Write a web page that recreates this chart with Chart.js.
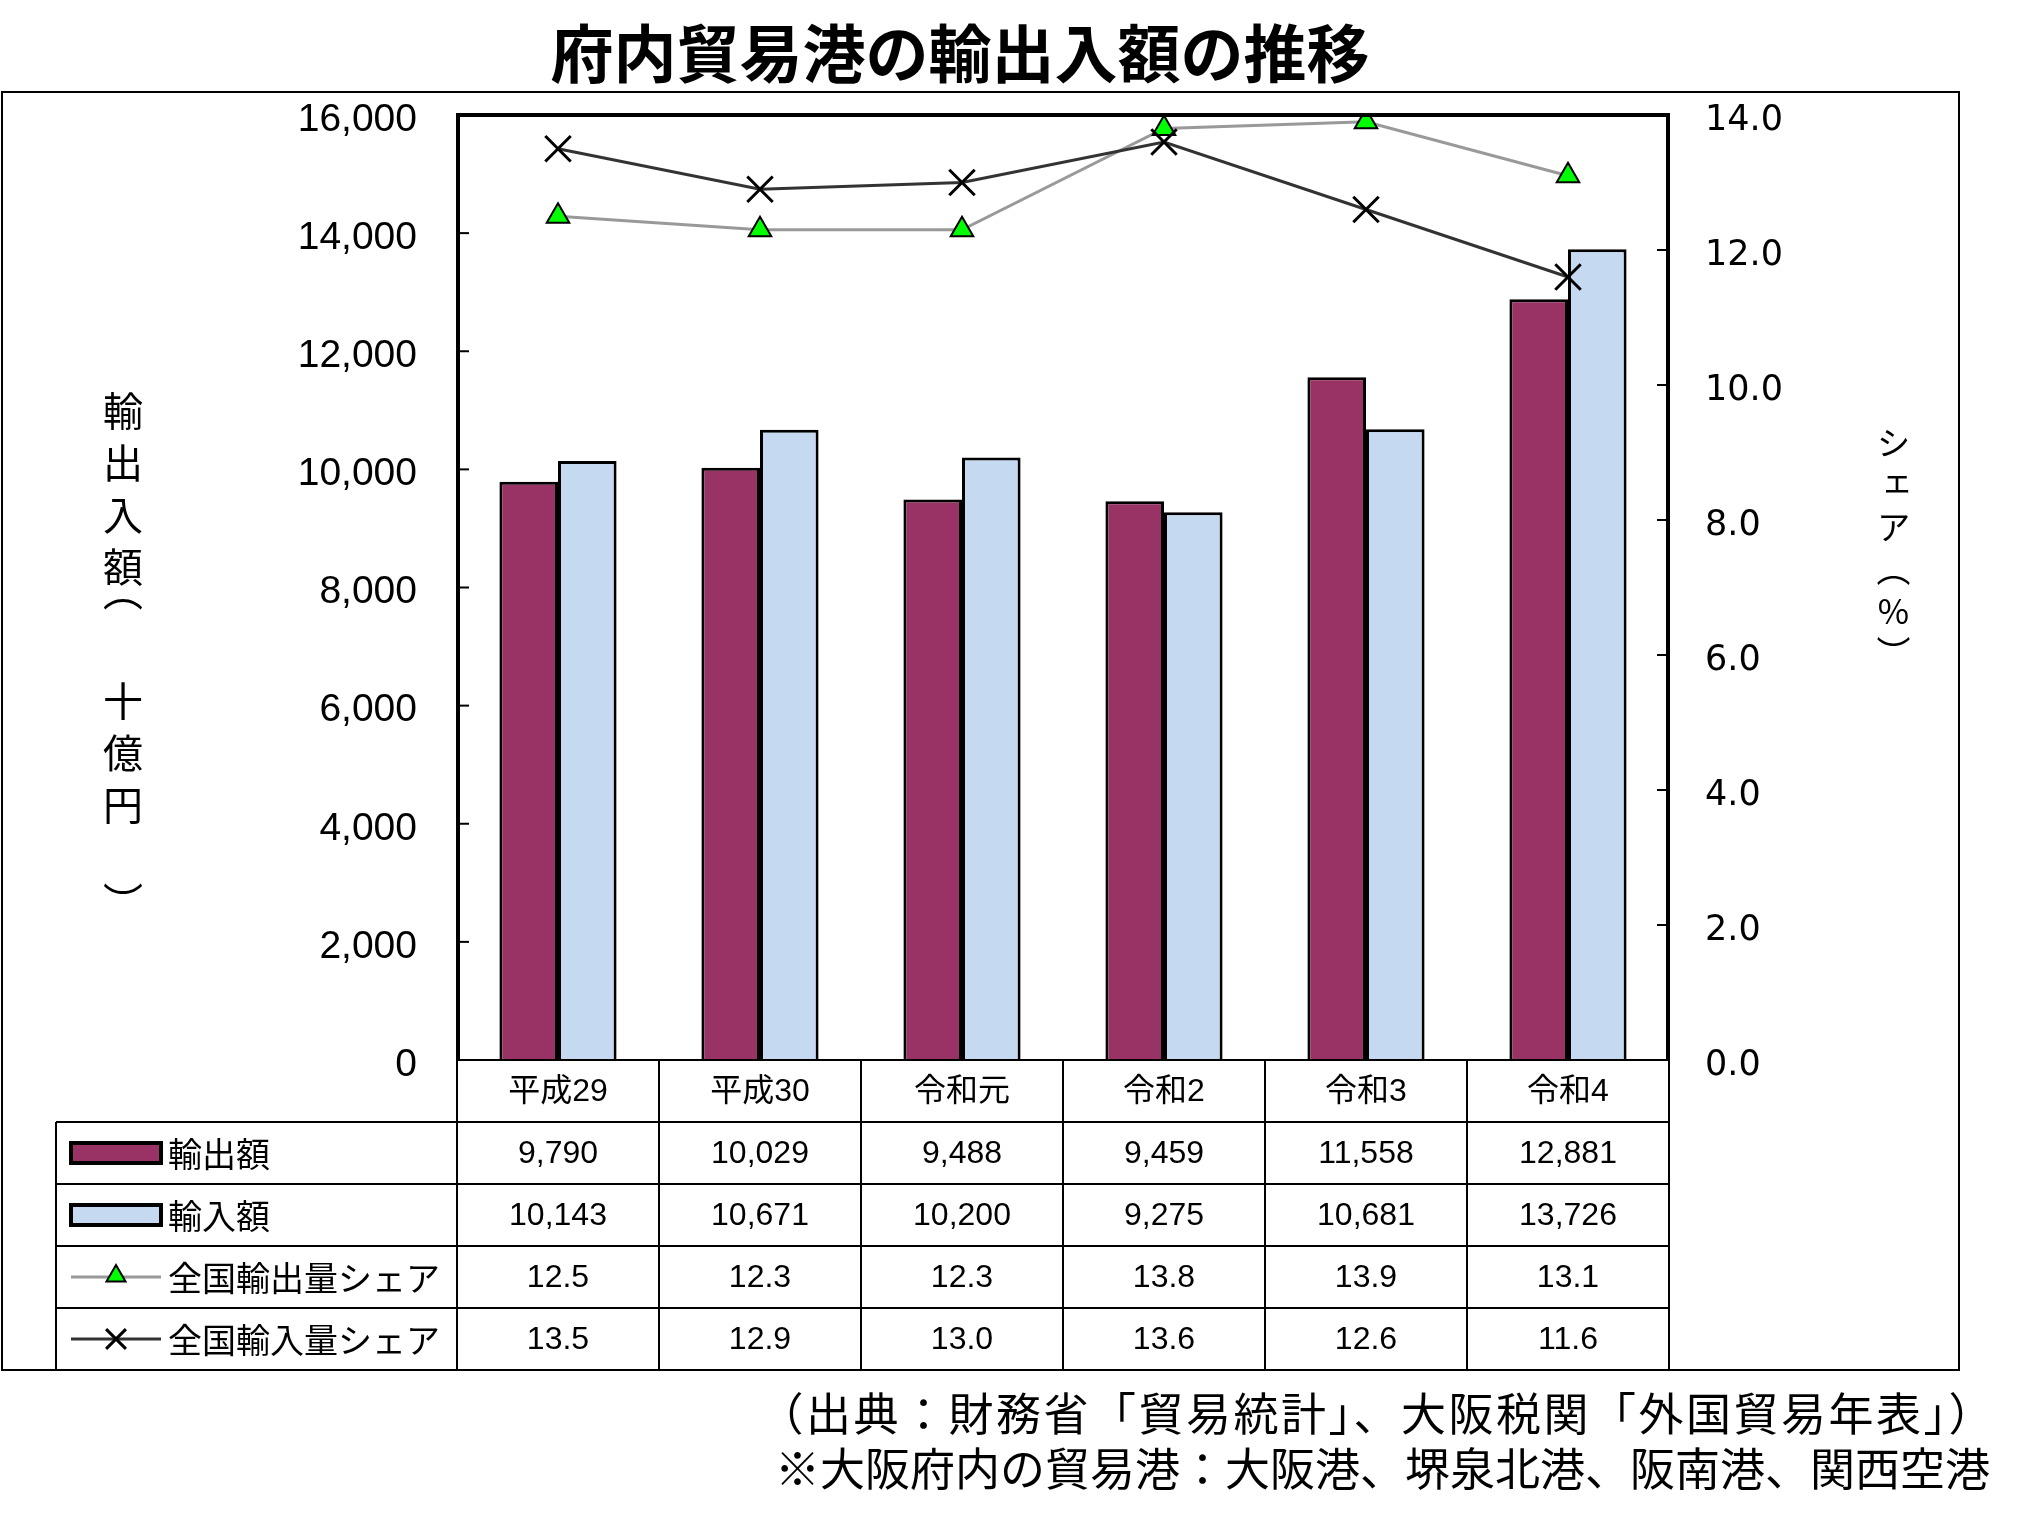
<!DOCTYPE html>
<html lang="ja">
<head>
<meta charset="utf-8">
<title>府内貿易港の輸出入額の推移</title>
<script src="https://cdn.jsdelivr.net/npm/chart.js@4.4.1/dist/chart.umd.min.js"></script>
<style>
  body { margin: 0; background: #fff; }
  #wrap { position: relative; width: 2026px; height: 1527px; }
  #chart { position: absolute; left: 0; top: 0; }
  .title {
    position: absolute; left: 0; top: 16px; width: 1920px; text-align: center;
    font: 700 63px/68px 'Noto Sans CJK JP', sans-serif; color: #000;
  }
  .ytitle {
    position: absolute; writing-mode: vertical-rl; text-orientation: upright;
    font-family: 'Noto Sans CJK JP', sans-serif; color: #000; white-space: nowrap;
  }
  .ytitle.left { left: 103px; top: 391px; font-size: 40px; line-height: 40px; letter-spacing: 12px; }
  .ytitle.left .po { margin-inline-start: -28px; margin-inline-end: 58px; }
  .ytitle.left .pc { margin-inline-start: 45px; }
  .ytitle.right { left: 1876px; top: 426px; font-size: 34px; line-height: 34px; letter-spacing: 8px; }
  .note {
    position: absolute; white-space: nowrap; color: #000;
    font: 400 45px/45px 'Noto Sans CJK JP', sans-serif;
  }
  .n1 { right: 30px; top: 1389px; letter-spacing: 2.5px; }
  .n2 { right: 36px; top: 1444px; }
</style>
</head>
<body>
<div id="wrap">
  <canvas id="chart" width="2026" height="1527"></canvas>
  <div class="title">府内貿易港の輸出入額の推移</div>
  <div class="ytitle left">輸出入額<span class="po">（</span>十億円<span class="pc">）</span></div>
  <div class="ytitle right">シェア（%）</div>
  <div class="note n1">（出典：財務省「貿易統計」、大阪税関「外国貿易年表」）</div>
  <div class="note n2">※大阪府内の貿易港：大阪港、堺泉北港、阪南港、関西空港</div>
</div>
<script>
// data (exports/imports in 十億円, shares in %)
var categories = ['平成29', '平成30', '令和元', '令和2', '令和3', '令和4'];
var exportValues = [9790, 10029, 9488, 9459, 11558, 12881];
var importValues = [10143, 10671, 10200, 9275, 10681, 13726];
var exportShare = [12.5, 12.3, 12.3, 13.8, 13.9, 13.1];
var importShare = [13.5, 12.9, 13.0, 13.6, 12.6, 11.6];
var seriesNames = ['輸出額', '輸入額', '全国輸出量シェア', '全国輸入量シェア'];

var EXPORT_COLOR = '#993366';
var IMPORT_COLOR = '#C5D9F1';
var TEXT_FONT = "'Liberation Sans', 'Noto Sans CJK JP', sans-serif";

function fmtInt(v) { return v.toLocaleString('en-US'); }
function fmt1(v) { return v.toFixed(1); }

function marker(ctx, style, radius, bw, x, y) {
    if (Chart.helpers && Chart.helpers.drawPoint) {
        Chart.helpers.drawPoint(ctx, { pointStyle: style, radius: radius, borderWidth: bw, rotation: 0 }, x, y);
    }
}

// inside ticks, plot frame, data table with legend keys
var tablePlugin = {
    id: 'dataTable',
    afterDraw: function(chart) {
        var ctx = chart.ctx;
        var area = chart.chartArea;
        var xs = chart.scales.x;
        var n = categories.length;
        var colW = area.width / n;
        var rowH = 62;
        var legendLeft = 56;
        var top = area.bottom;
        var bottom = top + rowH * 5;

        ctx.save();
        ctx.strokeStyle = '#000';

        // outer frame
        ctx.lineWidth = 2;
        ctx.strokeRect(2, 92, 1957, bottom - 92);

        // ticks inside the plot
        ctx.lineWidth = 2;
        chart.scales.y.ticks.forEach(function(t) {
            var py = chart.scales.y.getPixelForValue(t.value);
            ctx.beginPath(); ctx.moveTo(area.left, py); ctx.lineTo(area.left + 12, py); ctx.stroke();
        });
        chart.scales.y1.ticks.forEach(function(t) {
            var py = chart.scales.y1.getPixelForValue(t.value);
            ctx.beginPath(); ctx.moveTo(area.right - 12, py); ctx.lineTo(area.right, py); ctx.stroke();
        });

        // plot border
        ctx.lineWidth = 4;
        ctx.beginPath();
        ctx.moveTo(area.left + 1, area.bottom);
        ctx.lineTo(area.left + 1, area.top);
        ctx.lineTo(area.right - 1, area.top);
        ctx.lineTo(area.right - 1, area.bottom);
        ctx.stroke();

        // table grid
        ctx.lineWidth = 2;
        for (var i = 0; i <= 5; i++) {
            var y = top + rowH * i;
            ctx.beginPath();
            ctx.moveTo(i === 0 ? area.left : legendLeft, y);
            ctx.lineTo(area.right, y);
            ctx.stroke();
        }
        for (var j = 0; j <= n; j++) {
            var x = area.left + colW * j;
            ctx.beginPath(); ctx.moveTo(x, top); ctx.lineTo(x, bottom); ctx.stroke();
        }
        ctx.beginPath(); ctx.moveTo(legendLeft, top + rowH); ctx.lineTo(legendLeft, bottom); ctx.stroke();

        // cell texts
        var rows = [categories, exportValues.map(fmtInt), importValues.map(fmtInt),
                    exportShare.map(fmt1), importShare.map(fmt1)];
        ctx.fillStyle = '#000';
        ctx.font = '32px ' + TEXT_FONT;
        ctx.textAlign = 'center';
        ctx.textBaseline = 'middle';
        rows.forEach(function(row, r) {
            var cy = top + rowH * r + rowH / 2 + 1;
            row.forEach(function(txt, c) {
                ctx.fillText(txt, xs.getPixelForValue(c), cy);
            });
        });

        // legend keys
        var kx0 = 71, kx1 = 161;
        for (var k = 0; k < 4; k++) {
            var cy2 = top + rowH * (k + 1) + rowH / 2;
            if (k < 2) {
                ctx.fillStyle = k === 0 ? EXPORT_COLOR : IMPORT_COLOR;
                ctx.fillRect(kx0, cy2 - 10, kx1 - kx0, 20);
                ctx.lineWidth = 4;
                ctx.strokeStyle = '#000';
                ctx.strokeRect(kx0, cy2 - 10, kx1 - kx0, 20);
            } else {
                ctx.lineWidth = 3;
                ctx.strokeStyle = k === 2 ? '#999999' : '#333333';
                ctx.beginPath(); ctx.moveTo(kx0, cy2); ctx.lineTo(kx1, cy2); ctx.stroke();
                ctx.strokeStyle = '#000';
                if (k === 2) {
                    ctx.fillStyle = '#00FF00';
                    ctx.lineWidth = 2;
                    marker(ctx, 'triangle', 11, 2, (kx0 + kx1) / 2, cy2 - 1);
                } else {
                    ctx.fillStyle = '#fff';
                    ctx.lineWidth = 3;
                    marker(ctx, 'crossRot', 14, 3, (kx0 + kx1) / 2, cy2);
                }
            }
            ctx.fillStyle = '#000';
            ctx.textAlign = 'left';
            ctx.font = "34px 'Noto Sans CJK JP', sans-serif";
            ctx.fillText(seriesNames[k], 168, cy2 + 1);
        }
        ctx.restore();
    }
};

var ctx = document.getElementById('chart').getContext('2d');
var myChart = new Chart(ctx, {
    type: 'bar',
    data: {
        labels: categories,
        datasets: [{
            label: seriesNames[0],
            data: exportValues,
            backgroundColor: EXPORT_COLOR,
            borderColor: '#000',
            borderWidth: 3,
            yAxisID: 'y',
            order: 2,
            categoryPercentage: 0.58,
            barPercentage: 1.0
        }, {
            label: seriesNames[1],
            data: importValues,
            backgroundColor: IMPORT_COLOR,
            borderColor: '#000',
            borderWidth: 3,
            yAxisID: 'y',
            order: 2,
            categoryPercentage: 0.58,
            barPercentage: 1.0
        }, {
            type: 'line',
            label: seriesNames[2],
            data: exportShare,
            yAxisID: 'y1',
            borderColor: '#999999',
            borderWidth: 3,
            pointStyle: 'triangle',
            pointRadius: 13,
            pointBackgroundColor: '#00FF00',
            pointBorderColor: '#000',
            pointBorderWidth: 2,
            order: 1
        }, {
            type: 'line',
            label: seriesNames[3],
            data: importShare,
            yAxisID: 'y1',
            borderColor: '#333333',
            borderWidth: 3,
            pointStyle: 'crossRot',
            pointRadius: 18,
            pointBackgroundColor: '#fff',
            pointBorderColor: '#000',
            pointBorderWidth: 3,
            order: 0
        }]
    },
    options: {
        responsive: false,
        animation: false,
        devicePixelRatio: 1,
        layout: { padding: { top: 115, bottom: 467, left: 0, right: 0 } },
        plugins: {
            legend: { display: false },
            tooltip: { enabled: false }
        },
        scales: {
            x: { display: false },
            y: {
                position: 'left',
                min: 0,
                max: 16000,
                grid: { display: false, drawTicks: false },
                border: { display: false },
                ticks: {
                    stepSize: 2000,
                    padding: 40,
                    labelOffset: 5,
                    color: '#000',
                    font: { family: TEXT_FONT, size: 39 },
                    callback: function(v) { return fmtInt(v); }
                },
                afterFit: function(s) { s.width = 457; }
            },
            y1: {
                position: 'right',
                min: 0,
                max: 14,
                grid: { display: false, drawTicks: false },
                border: { display: false },
                ticks: {
                    stepSize: 2,
                    padding: 36,
                    labelOffset: 6,
                    color: '#000',
                    font: { family: "'DejaVu Sans', sans-serif", size: 35 },
                    callback: function(v) { return fmt1(v); }
                },
                afterFit: function(s) { s.width = 357; }
            }
        }
    },
    plugins: [tablePlugin]
});
</script>
</body>
</html>
